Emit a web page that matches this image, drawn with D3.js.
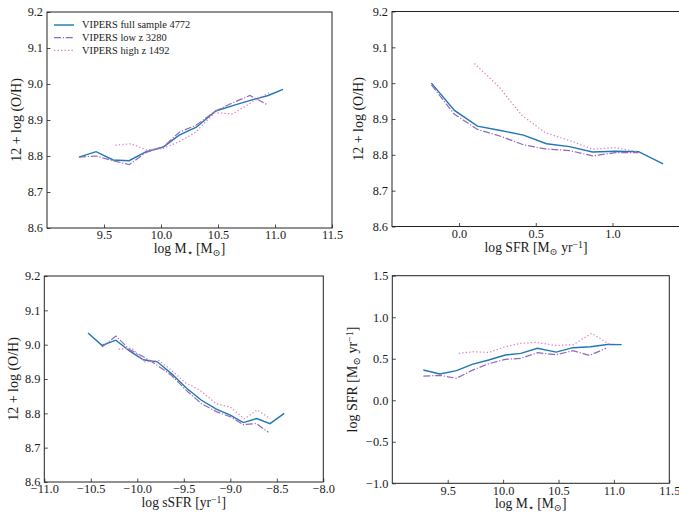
<!DOCTYPE html>
<html><head><meta charset="utf-8">
<script src="https://cdn.jsdelivr.net/npm/d3@7"></script>
<style>body{margin:0;background:#fff}svg{display:block}text{font-family:"Liberation Serif","DejaVu Serif",serif;fill:#1a1a1a}</style>
</head><body>
<svg id="c" width="679" height="518"></svg>
<script>
// ---- data ----
const seriesNames = ["VIPERS full sample 4772", "VIPERS low z 3280", "VIPERS high z 1492"];
// stellar-mass bins
const massFull = [9.28, 9.43, 9.58, 9.72, 9.87, 10.02, 10.16, 10.31, 10.48, 10.63, 10.79, 10.94, 11.07];
const massLow  = [9.28, 9.43, 9.58, 9.72, 9.87, 10.02, 10.16, 10.31, 10.48, 10.63, 10.78, 10.93];
const massHigh = [9.60, 9.74, 9.87, 10.01, 10.16, 10.30, 10.47, 10.63, 10.80, 10.96];
// panel 1: metallicity vs mass
const ohMassFull = [8.797, 8.812, 8.789, 8.787, 8.812, 8.825, 8.858, 8.880, 8.925, 8.940, 8.955, 8.968, 8.985];
const ohMassLow  = [8.797, 8.800, 8.787, 8.776, 8.810, 8.825, 8.866, 8.886, 8.925, 8.948, 8.968, 8.943];
const ohMassHigh = [8.830, 8.834, 8.817, 8.820, 8.840, 8.865, 8.920, 8.917, 8.950, 8.978];
// panel 2: metallicity vs SFR
const sfrFull = [-0.18, -0.03, 0.12, 0.27, 0.42, 0.57, 0.72, 0.87, 1.02, 1.17, 1.33];
const sfrLow  = [-0.18, -0.03, 0.12, 0.27, 0.42, 0.57, 0.72, 0.87, 1.02, 1.17];
const sfrHigh = [0.10, 0.26, 0.41, 0.56, 0.72, 0.87, 1.02, 1.17];
const ohSfrFull = [9.000, 8.924, 8.880, 8.868, 8.855, 8.831, 8.823, 8.808, 8.810, 8.809, 8.775];
const ohSfrLow  = [8.995, 8.913, 8.871, 8.852, 8.828, 8.816, 8.812, 8.797, 8.806, 8.806];
const ohSfrHigh = [9.055, 8.990, 8.910, 8.862, 8.840, 8.816, 8.820, 8.808];
// panel 3: metallicity vs sSFR
const ssfrFull = [-10.53, -10.38, -10.23, -10.08, -9.935, -9.785, -9.63, -9.47, -9.31, -9.15, -9.00, -8.86, -8.716, -8.573, -8.42];
const ssfrLow  = [-10.38, -10.23, -10.08, -9.935, -9.785, -9.63, -9.47, -9.31, -9.15, -9.00, -8.86, -8.72, -8.59];
const ssfrHigh = [-10.20, -10.06, -9.92, -9.77, -9.63, -9.49, -9.33, -9.15, -9.00, -8.85, -8.71, -8.57];
const ohSsfrFull = [9.034, 8.998, 9.013, 8.981, 8.956, 8.950, 8.915, 8.873, 8.838, 8.812, 8.795, 8.773, 8.785, 8.770, 8.800];
const ohSsfrLow  = [8.993, 9.025, 8.985, 8.965, 8.940, 8.910, 8.866, 8.828, 8.805, 8.790, 8.767, 8.770, 8.745];
const ohSsfrHigh = [8.987, 8.990, 8.950, 8.954, 8.925, 8.890, 8.868, 8.828, 8.818, 8.784, 8.810, 8.784];
// panel 4: SFR vs mass
const sfrMassFull = [0.364, 0.316, 0.356, 0.433, 0.485, 0.545, 0.565, 0.626, 0.580, 0.633, 0.645, 0.672, 0.670];
const sfrMassLow  = [0.290, 0.300, 0.265, 0.360, 0.440, 0.493, 0.505, 0.573, 0.548, 0.597, 0.540, 0.626];
const sfrMassHigh = [0.565, 0.585, 0.575, 0.642, 0.686, 0.698, 0.660, 0.668, 0.806, 0.675];
// ticks
const massTicks = [9.5, 10.0, 10.5, 11.0, 11.5];
const sfrTicks = [0.0, 0.5, 1.0];
const ssfrTicks = [-11.0, -10.5, -10.0, -9.5, -9.0, -8.5, -8.0];
const ohTicks = [8.6, 8.7, 8.8, 8.9, 9.0, 9.1, 9.2];
const sfrYTicks = [-1.0, -0.5, 0.0, 0.5, 1.0, 1.5];

const colors = ["#1f77b4", "#9467bd", "#e377c2"];
const dashes = [null, "7,1.8,1.2,1.8", "1.3,2.2"];

const svg = d3.select("#c");
const fmt = v => d3.format(".1f")(v).replace("-", "\u2212");

function label(g, parts, attrs) {
  const t = g.append("text");
  for (const k in attrs) t.attr(k, attrs[k]);
  parts.forEach(p => {
    const s = t.append("tspan").text(p.t);
    if (p.sub) s.attr("baseline-shift", "-25%").attr("font-size", "0.72em");
    if (p.sup) s.attr("baseline-shift", "38%").attr("font-size", "0.72em");
  });
  return t;
}

function panel(cfg) {
  const g = svg.append("g");
  const x = d3.scaleLinear().domain(cfg.xd).range(cfg.xr);
  const y = d3.scaleLinear().domain(cfg.yd).range(cfg.yr);
  const clipId = "clip" + Math.random().toString(36).slice(2);
  g.append("clipPath").attr("id", clipId).append("rect")
    .attr("x", cfg.xr[0]).attr("y", cfg.yr[1]).attr("width", cfg.xr[1] - cfg.xr[0]).attr("height", cfg.yr[0] - cfg.yr[1]);
  const xa = g.append("g").attr("transform", `translate(0,${cfg.yr[0]})`)
    .call(d3.axisBottom(x).tickValues(cfg.xt).tickSizeInner(-3.5).tickSizeOuter(0).tickPadding(2.5).tickFormat(fmt));
  const ya = g.append("g").attr("transform", `translate(${cfg.xr[0]},0)`)
    .call(d3.axisLeft(y).tickValues(cfg.yt).tickSizeInner(-3.5).tickSizeOuter(0).tickPadding(4).tickFormat(fmt));
  [xa, ya].forEach(a => {
    a.select(".domain").remove();
    a.selectAll("line").attr("stroke", "#222").attr("stroke-width", 0.8);
    a.selectAll("text").attr("font-size", 12.3).attr("fill", "#1a1a1a").style("font-family", '"Liberation Serif",serif');
  });
  const lines = g.append("g").attr("clip-path", `url(#${clipId})`);
  const gen = d3.line().x(d => x(d[0])).y(d => y(d[1]));
  cfg.series.forEach((s, i) => {
    const pts = s.xs.map((v, j) => [v, s.ys[j]]);
    const p = lines.append("path").datum(pts).attr("d", gen).attr("fill", "none")
      .attr("stroke", colors[i]).attr("stroke-width", i === 0 ? 1.4 : 1.2);
    if (dashes[i]) p.attr("stroke-dasharray", dashes[i]);
  });
  g.append("rect").attr("x", cfg.xr[0]).attr("y", cfg.yr[1])
    .attr("width", cfg.xr[1] - cfg.xr[0]).attr("height", cfg.yr[0] - cfg.yr[1])
    .attr("fill", "none").attr("stroke", "#222").attr("stroke-width", 1);
  const xm = (cfg.xr[0] + cfg.xr[1]) / 2;
  label(g, cfg.xl, {x: cfg.xlx || xm, y: cfg.yr[0] + 25, "text-anchor": "middle", "font-size": 13.6});
  const ym = (cfg.yr[0] + cfg.yr[1]) / 2;
  label(g, cfg.yl, {transform: `translate(${cfg.ylx},${ym}) rotate(-90)`, "text-anchor": "middle", "font-size": 14});
  return {g, x, y};
}

const ohLabel = [{t: "12 + log (O/H)"}];
const massLabel = [{t: "log M"}, {t: "\u22c6", sub: true}, {t: " [M"}, {t: "\u2299", sub: true}, {t: "]"}];
const sfrLabel = [{t: "log SFR [M"}, {t: "\u2299", sub: true}, {t: " yr"}, {t: "\u22121", sup: true}, {t: "]"}];
const ssfrLabel = [{t: "log sSFR [yr"}, {t: "\u22121", sup: true}, {t: "]"}];

panel({xd: [9, 11.5], xr: [47, 332], yd: [8.6, 9.2], yr: [228, 12], xt: massTicks, yt: ohTicks,
  xl: massLabel, yl: ohLabel, ylx: 21,
  series: [{xs: massFull, ys: ohMassFull}, {xs: massLow, ys: ohMassLow}, {xs: massHigh, ys: ohMassHigh}]});
panel({xd: [-0.437, 1.44], xr: [392, 680], yd: [8.6, 9.2], yr: [226.5, 11.5], xt: sfrTicks, yt: ohTicks,
  xl: sfrLabel, yl: ohLabel, ylx: 363, xlx: 536,
  series: [{xs: sfrFull, ys: ohSfrFull}, {xs: sfrLow, ys: ohSfrLow}, {xs: sfrHigh, ys: ohSfrHigh}]});
panel({xd: [-11, -8], xr: [44.3, 323.3], yd: [8.6, 9.2], yr: [482, 276], xt: ssfrTicks, yt: ohTicks,
  xl: ssfrLabel, yl: ohLabel, ylx: 18,
  series: [{xs: ssfrFull, ys: ohSsfrFull}, {xs: ssfrLow, ys: ohSsfrLow}, {xs: ssfrHigh, ys: ohSsfrHigh}]});
panel({xd: [9, 11.5], xr: [392.3, 669.3], yd: [-1, 1.5], yr: [483.3, 275.7], xt: massTicks, yt: sfrYTicks,
  xl: massLabel, yl: sfrLabel, ylx: 357,
  series: [{xs: massFull, ys: sfrMassFull}, {xs: massLow, ys: sfrMassLow}, {xs: massHigh, ys: sfrMassHigh}]});

// legend in panel 1
const lg = svg.append("g");
seriesNames.forEach((n, i) => {
  const yy = 25 + i * 12.7;
  const l = lg.append("line").attr("x1", 54).attr("x2", 74).attr("y1", yy).attr("y2", yy)
    .attr("stroke", colors[i]).attr("stroke-width", i === 0 ? 1.4 : 1.2);
  if (dashes[i]) l.attr("stroke-dasharray", dashes[i]);
  lg.append("text").attr("x", 82).attr("y", yy + 3.4).attr("font-size", 10.4).text(n);
});
</script>
</body></html>
